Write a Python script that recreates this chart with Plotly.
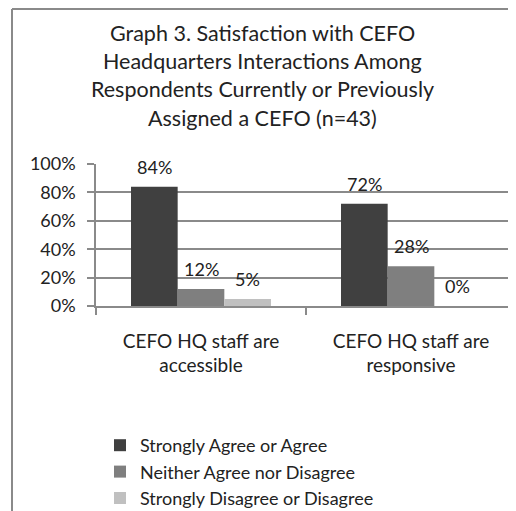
import plotly.graph_objects as go

categories = ["CEFO HQ staff are<br>accessible", "CEFO HQ staff are<br>responsive"]
series_names = [
    "Strongly Agree or Agree",
    "Neither Agree nor Disagree",
    "Strongly Disagree or Disagree",
]
agree = [84, 72]
neither = [12, 28]
disagree = [5, 0]
title_lines = [
    "Graph 3. Satisfaction with CEFO",
    "Headquarters Interactions Among",
    "Respondents Currently or Previously",
    "Assigned a CEFO (n=43)",
]
y_ticks = [0, 20, 40, 60, 80, 100]

colors = ["#404040", "#7f7f7f", "#c0c0c0"]
FONT = "Lato"
BARGAP = 1 / 3

# the page body adds an 8px margin, so the figure is laid out 8px smaller
OFF = 8
W, H = 516 - OFF, 511 - OFF
L, R, T, B = 96 - OFF, 0, 164 - OFF, 511 - 306
PW, PH = W - L - R, H - T - B


def px_x(p):
    return (p - OFF - L) / PW


def px_y(p):
    return (H - B - (p - OFF)) / PH


values = [agree, neither, disagree]
data = [
    go.Bar(x=categories, y=vals, name=name, marker=dict(color=col, line=dict(width=0)))
    for name, vals, col in zip(series_names, values, colors)
]

# data labels above each bar
annotations = []
slot = (1 - BARGAP) / len(values)
for j, vals in enumerate(values):
    for i, v in enumerate(vals):
        annotations.append(dict(
            x=i + (j - 1) * slot, y=v, xref="x", yref="y",
            text=f"{v}%", showarrow=False, yshift=20,
            font=dict(family=FONT, size=18, color="#222222"),
        ))

# title lines (Excel-like spacing)
for k, line in enumerate(title_lines):
    annotations.append(dict(
        x=px_x(262), y=px_y(32.5 + 28.5 * k), xref="paper", yref="paper",
        text=line, showarrow=False, xanchor="center", yanchor="middle",
        font=dict(family=FONT, size=21.5, color="#222222"),
    ))

shapes = [
    dict(type="line", xref="paper", yref="paper", x0=px_x(12), x1=px_x(12),
         y0=px_y(9), y1=px_y(530), line=dict(color="#8a8a8a", width=2)),
    dict(type="line", xref="paper", yref="paper", x0=px_x(12), x1=px_x(530),
         y0=px_y(9), y1=px_y(9), line=dict(color="#8a8a8a", width=2)),
]

layout = go.Layout(
    width=W, height=H,
    margin=dict(l=L, r=R, t=T, b=B, pad=0, autoexpand=False),
    paper_bgcolor="white", plot_bgcolor="white",
    barmode="group", bargap=BARGAP, bargroupgap=0,
    font=dict(family=FONT, size=18, color="#222222"),
    showlegend=True,
    legend=dict(
        x=px_x(100), y=px_y(427), xanchor="left", yanchor="top",
        orientation="v", font=dict(family=FONT, size=18, color="#222222"),
        bgcolor="rgba(0,0,0,0)", traceorder="normal",
    ),
    xaxis=dict(
        showline=True, linecolor="#8a8a8a", linewidth=1.5,
        ticks="outside", tickson="boundaries", ticklen=7, tickcolor="#8a8a8a",
        tickwidth=1.5, ticklabelstandoff=17, showgrid=False,
        tickfont=dict(family=FONT, size=19, color="#222222"),
    ),
    yaxis=dict(
        range=[0, 100], tickvals=y_ticks, ticktext=[f"{t}%" for t in y_ticks],
        showgrid=True, gridcolor="#8a8a8a", gridwidth=1.5,
        showline=True, linecolor="#8a8a8a", linewidth=1.5,
        ticks="outside", ticklen=7, tickcolor="#8a8a8a", tickwidth=1.5,
        ticklabelstandoff=8, zeroline=False,
        tickfont=dict(family=FONT, size=18, color="#222222"),
    ),
    annotations=annotations,
    shapes=shapes,
)

fig = go.Figure(data, layout)
fig.write_html("out.html")
